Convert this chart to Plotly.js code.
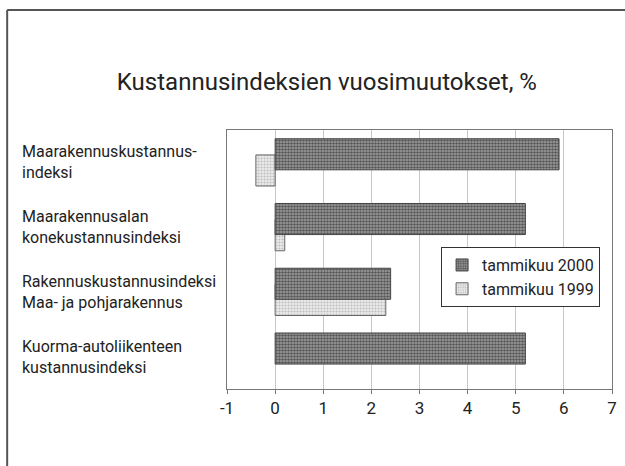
<!DOCTYPE html>
<html>
<head>
<meta charset="utf-8">
<script src="https://cdn.plot.ly/plotly-3.0.1.min.js"></script>
<style>
html,body{margin:0;padding:0;background:#fff;overflow:hidden;}
#chart{width:625px;height:466px;}
</style>
</head>
<body>
<div id="chart"></div>
<script>
const categories = [
  "Maarakennuskustannus-<br>indeksi",
  "Maarakennusalan<br>konekustannusindeksi",
  "Rakennuskustannusindeksi<br>Maa- ja pohjarakennus",
  "Kuorma-autoliikenteen<br>kustannusindeksi"
];
const series2000 = [5.9, 5.2, 2.4, 5.2];
const series1999 = [-0.4, 0.2, 2.3, null];
const seriesNames = ["tammikuu 2000", "tammikuu 1999"];
const xTicks = [-1, 0, 1, 2, 3, 4, 5, 6, 7];

const FONT = "Roboto, 'Liberation Sans', sans-serif";
const pos = categories.map((_, i) => i);

const trace1999 = {
  type: 'bar', orientation: 'h', name: seriesNames[1],
  x: series1999, y: pos, width: 0.48, offset: -0.115,
  marker: {
    color: '#e4e4e4',
    line: {color: '#666', width: 1},
    pattern: {shape: '.', bgcolor: '#ececec', fgcolor: '#bdbdbd', size: 3, solidity: 0.4}
  },
  hoverinfo: 'none'
};
const trace2000 = {
  type: 'bar', orientation: 'h', name: seriesNames[0],
  x: series2000, y: pos, width: 0.48, offset: -0.365,
  marker: {
    color: '#808080',
    line: {color: '#444', width: 1},
    pattern: {shape: '.', bgcolor: '#a6a6a6', fgcolor: '#585858', size: 3, solidity: 0.6}
  },
  hoverinfo: 'none'
};

const annotations = categories.map((c, i) => ({
  text: c, xref: 'paper', yref: 'y', x: -0.537, y: i,
  xanchor: 'left', yanchor: 'middle', align: 'left', showarrow: false,
  font: {family: FONT, size: 16, color: '#222'}
}));

const layout = {
  width: 625, height: 466,
  margin: {l: 227, r: 13, t: 130, b: 77, autoexpand: false},
  paper_bgcolor: '#fff', plot_bgcolor: '#fff',
  barmode: 'overlay',
  title: {
    text: 'Kustannusindeksien vuosimuutokset, %',
    x: 0.523, xanchor: 'center', y: 0.824, yanchor: 'middle',
    font: {family: FONT, size: 24, color: '#222'}
  },
  xaxis: {
    range: [-1, 7], tickvals: xTicks, ticktext: xTicks.map(String),
    automargin: false,
    showgrid: true, gridcolor: '#c8c8c8', gridwidth: 1,
    zeroline: false, showline: true, linecolor: '#777', linewidth: 1, mirror: true,
    ticks: 'outside', ticklen: 4, tickcolor: '#777',
    tickfont: {family: FONT, size: 17, color: '#222'}
  },
  yaxis: {
    range: [3.5, -0.5], showticklabels: false, showgrid: false, zeroline: false,
    automargin: false,
    showline: true, linecolor: '#777', linewidth: 1, mirror: true, ticks: ''
  },
  legend: {
    x: 0.969, y: 0.548, xanchor: 'right', yanchor: 'top',
    traceorder: 'reversed', bgcolor: '#fff', bordercolor: '#333', borderwidth: 1,
    font: {family: FONT, size: 16, color: '#222'},
    itemwidth: 30, tracegroupgap: 0
  },
  annotations: annotations,
  shapes: [
    {type: 'line', xref: 'paper', yref: 'paper', x0: -0.571, x1: 2, y0: 1.463, y1: 1.463, line: {color: '#555', width: 2}},
    {type: 'line', xref: 'paper', yref: 'paper', x0: -0.571, x1: -0.571, y0: 1.463, y1: -1, line: {color: '#555', width: 2}}
  ],
  showlegend: true
};

Plotly.newPlot('chart', [trace1999, trace2000], layout, {staticPlot: true, displayModeBar: false});
</script>
</body>
</html>
